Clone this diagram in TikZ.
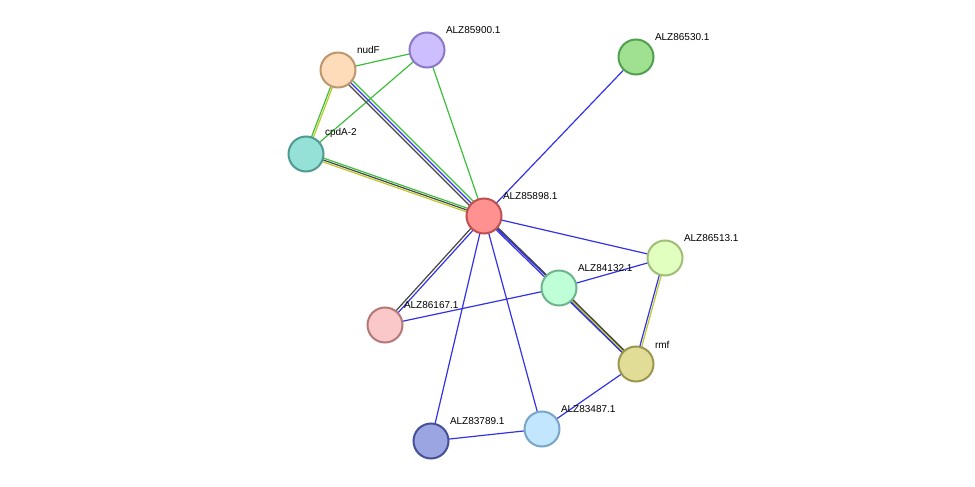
\documentclass[tikz,border=0pt]{standalone}
\usepackage{fontspec}
\setmainfont{Liberation Sans}
\usetikzlibrary{positioning,calc}
\begin{document}
\begin{tikzpicture}[x=1pt,y=-1pt]
                        \tikzstyle{every node}=[circle,draw,line width=2,minimum size=35,inner sep=0]
                        \tikzstyle{lbl}=[draw=none,rectangle,minimum size=0,inner sep=1,anchor=south west,font=\fontsize{10}{12}\selectfont]
                        \tikzstyle{bl}=[draw={rgb,255:red,50;green,50;blue,230},line width=1.2]
                        \tikzstyle{gr}=[draw={rgb,255:red,60;green,190;blue,60},line width=1.2]
                        \tikzstyle{yl}=[draw={rgb,255:red,190;green,200;blue,40},line width=1.2]
                        \tikzstyle{dk}=[draw={rgb,255:red,70;green,70;blue,70},line width=1.2]
                        \useasboundingbox (0,0) rectangle (975,487);
                        {
                            % edges first
                            \coordinate (hub) at (484,216);
                            \coordinate (nudF) at (338,70);
                            \coordinate (a900) at (427,50);
                            \coordinate (a530) at (636,57);
                            \coordinate (cpdA) at (306,154);
                            \coordinate (a513) at (665,258);
                            \coordinate (a132) at (559,288);
                            \coordinate (a167) at (385,325);
                            \coordinate (rmf) at (636,364);
                            \coordinate (a487) at (542,429);
                            \coordinate (a789) at (431,441);

                            \draw[bl] (hub) -- (a530) (hub) -- (a513) (hub) -- (a789) (hub) -- (a487)
                                (a132) -- (a513) (a132) -- (a167) (rmf) -- (a487) (a487) -- (a789);
                            \draw[gr] (hub) -- (a900) (nudF) -- (a900) (cpdA) -- (a900);
                            \draw[bl,transform canvas={shift={(-1,-1)}}] (hub) -- (a132);
                            \draw[bl,transform canvas={shift={(1,1)}}] (hub) -- (a132);
                            \draw[bl,transform canvas={shift={(-1,1)}}] (hub) -- (rmf);
                            \draw[dk,transform canvas={shift={(1,-1)}}] (hub) -- (rmf);
                            \draw[bl,transform canvas={shift={(1,1)}}] (hub) -- (a167);
                            \draw[dk,transform canvas={shift={(-1,-1)}}] (hub) -- (a167);
                            \draw[gr,transform canvas={shift={(0,-2)}}] (hub) -- (cpdA);
                            \draw[dk] (hub) -- (cpdA);
                            \draw[yl,transform canvas={shift={(0,2)}}] (hub) -- (cpdA);
                            \draw[gr,transform canvas={shift={(2,-2)}}] (hub) -- (nudF);
                            \draw[bl] (hub) -- (nudF);
                            \draw[dk,transform canvas={shift={(-2,2)}}] (hub) -- (nudF);
                            \draw[gr,transform canvas={shift={(-1,0)}}] (nudF) -- (cpdA);
                            \draw[yl,transform canvas={shift={(1,0)}}] (nudF) -- (cpdA);
                            \draw[bl,transform canvas={shift={(-1,1)}}] (a132) -- (rmf);
                            \draw[yl] (a132) -- (rmf);
                            \draw[dk,transform canvas={shift={(1,-1)}}] (a132) -- (rmf);
                            \draw[bl,transform canvas={shift={(-1,0)}}] (a513) -- (rmf);
                            \draw[yl,transform canvas={shift={(1,0)}}] (a513) -- (rmf);

                            % nodes
                            \node[draw={rgb,255:red,190;green,80;blue,80},fill={rgb,255:red,255;green,145;blue,145}] (n1) at (hub) {};
                            \node[draw={rgb,255:red,190;green,150;blue,110},fill={rgb,255:red,255;green,220;blue,185}] (n2) at (nudF) {};
                            \node[draw={rgb,255:red,140;green,120;blue,200},fill={rgb,255:red,205;green,190;blue,255}] (n3) at (a900) {};
                            \node[draw={rgb,255:red,80;green,160;blue,80},fill={rgb,255:red,160;green,225;blue,145}] (n4) at (a530) {};
                            \node[draw={rgb,255:red,80;green,155;blue,145},fill={rgb,255:red,150;green,225;blue,215}] (n5) at (cpdA) {};
                            \node[draw={rgb,255:red,160;green,190;blue,120},fill={rgb,255:red,225;green,255;blue,190}] (n6) at (a513) {};
                            \node[draw={rgb,255:red,110;green,180;blue,140},fill={rgb,255:red,190;green,255;blue,215}] (n7) at (a132) {};
                            \node[draw={rgb,255:red,180;green,120;blue,120},fill={rgb,255:red,250;green,200;blue,200}] (n8) at (a167) {};
                            \node[draw={rgb,255:red,155;green,150;blue,80},fill={rgb,255:red,225;green,220;blue,150}] (n9) at (rmf) {};
                            \node[draw={rgb,255:red,120;green,165;blue,200},fill={rgb,255:red,195;green,230;blue,255}] (n10) at (a487) {};
                            \node[draw={rgb,255:red,70;green,80;blue,150},fill={rgb,255:red,155;green,165;blue,225}] (n11) at (a789) {};

                            % labels
                            \node[lbl] at ($(hub)+(17,-14)$) {ALZ85898.1};
                            \node[lbl] at ($(nudF)+(17,-14)$) {nudF};
                            \node[lbl] at ($(a900)+(17,-14)$) {ALZ85900.1};
                            \node[lbl] at ($(a530)+(17,-14)$) {ALZ86530.1};
                            \node[lbl] at ($(cpdA)+(17,-14)$) {cpdA-2};
                            \node[lbl] at ($(a513)+(17,-14)$) {ALZ86513.1};
                            \node[lbl] at ($(a132)+(17,-14)$) {ALZ84132.1};
                            \node[lbl] at ($(a167)+(17,-14)$) {ALZ86167.1};
                            \node[lbl] at ($(rmf)+(17,-14)$) {rmf};
                            \node[lbl] at ($(a487)+(17,-14)$) {ALZ83487.1};
                            \node[lbl] at ($(a789)+(17,-14)$) {ALZ83789.1};
                        }
                    \end{tikzpicture}
\end{document}
